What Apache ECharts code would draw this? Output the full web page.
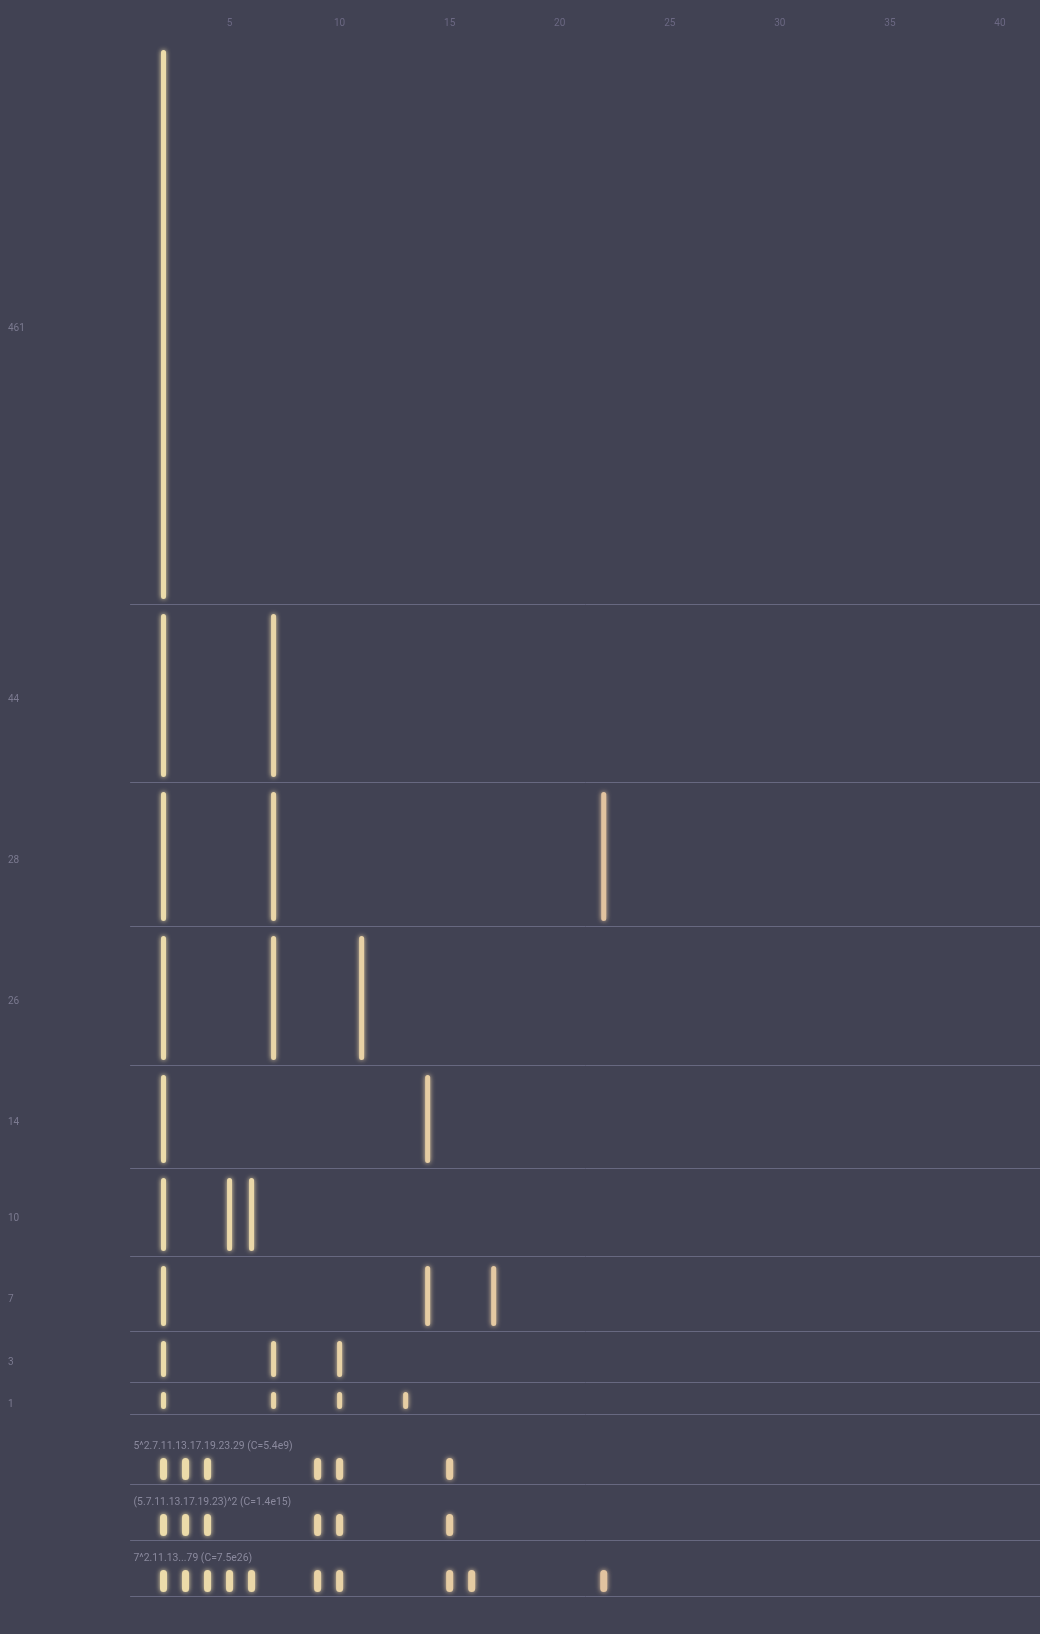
<!DOCTYPE html>
<html><head><meta charset="utf-8">
<script src="https://cdn.jsdelivr.net/npm/echarts@6/dist/echarts.min.js"></script>
<style>html,body{margin:0;padding:0;background:#414253}#c{width:1040px;height:1634px}</style>
</head><body><div id="c"></div>
<script>
// ---- data ----
const rowLabels = ['461', '44', '28', '26', '14', '10', '7', '3', '1'];
const rowGaps = [[2], [2, 7], [2, 7, 22], [2, 7, 11], [2, 14], [2, 5, 6], [2, 14, 17], [2, 7, 10], [2, 7, 10, 13]];
const extraLabels = ['5^2.7.11.13.17.19.23.29 (C=5.4e9)', '(5.7.11.13.17.19.23)^2 (C=1.4e15)', '7^2.11.13...79 (C=7.5e26)'];
const extraGaps = [[2, 3, 4, 9, 10, 15], [2, 3, 4, 9, 10, 15], [2, 3, 4, 5, 6, 9, 10, 15, 16, 22]];
const xTickLabels = [5, 10, 15, 20, 25, 30, 35, 40];

// ---- layout (pixels): [barTop, barBottom, separatorY] ----
const layout = [[50, 599, 604], [614, 777, 782], [792, 921, 926], [936, 1060, 1065], [1075, 1163, 1168],
  [1178, 1251, 1256], [1266, 1326, 1331], [1341, 1377, 1382], [1392, 1409, 1414],
  [1458, 1480, 1484], [1514, 1536, 1540], [1570, 1592, 1596]];

const allLabels = rowLabels.concat(extraLabels);
const allGaps = rowGaps.concat(extraGaps);
const lineColor = '#676880';
const FONT = 'Roboto';
const X_MIN = 0.5, X_MAX = 41.82;

const grid = [], xAxis = [], yAxis = [], series = [];
allLabels.forEach((lab, i) => {
  const L = layout[i];
  const titled = i >= rowLabels.length;
  const barW = titled ? 7 : 5;
  grid.push({ left: 130.5, right: 0, top: L[0], height: L[1] - L[0] });
  xAxis.push({
    gridIndex: i, type: 'value', min: X_MIN, max: X_MAX, position: 'bottom', offset: L[2] - L[1],
    axisLine: { show: true, lineStyle: { color: lineColor, width: 1 } },
    axisTick: { show: false }, axisLabel: { show: false }, splitLine: { show: false }
  });
  yAxis.push({
    gridIndex: i, type: 'category', data: [lab],
    axisLine: { show: false }, axisTick: { show: false }, splitLine: { show: false },
    axisLabel: titled ? { show: false } : { align: 'left', verticalAlign: 'top', lineHeight: 7, margin: 122.5, color: '#7b7a90', fontSize: 10, fontFamily: FONT },
    name: titled ? lab : '', nameLocation: 'end', nameGap: 11.5,
    nameTextStyle: { align: 'left', verticalAlign: 'middle', padding: [0, 0, 0, 3], color: '#8a899d', fontSize: 10.4, fontFamily: FONT }
  });
  series.push({
    type: 'custom', xAxisIndex: i, yAxisIndex: i, encode: { x: 0, y: 1 },
    data: allGaps[i].map(g => [g, 0]),
    renderItem: (params, api) => {
      const c = api.coord([api.value(0), 0]);
      const h = api.size([0, 1])[1];
      const col = api.visual('color');
      return {
        type: 'rect',
        shape: { x: c[0] - barW / 2, y: c[1] - h / 2, width: barW, height: h, r: barW / 2 },
        style: { fill: col, shadowBlur: 5, shadowColor: col }
      };
    }
  });
});
// top tick-label axis
xAxis.push({
  gridIndex: 0, type: 'value', min: X_MIN, max: X_MAX, position: 'top',
  axisLine: { show: false }, axisTick: { show: false }, splitLine: { show: false },
  axisLabel: { customValues: xTickLabels, margin: 22, color: '#6b6883', fontSize: 10, fontFamily: FONT }
});

const chart = echarts.init(document.getElementById('c'), null, { renderer: 'canvas' });
chart.setOption({
  backgroundColor: '#414253',
  animation: false,
  grid, xAxis, yAxis, series,
  visualMap: {
    show: false, type: 'continuous', dimension: 0, min: 2, max: 22,
    seriesIndex: series.map((s, i) => i),
    inRange: { color: ['#ecdcaa', '#e2c39f'] }
  }
});
</script></body></html>
